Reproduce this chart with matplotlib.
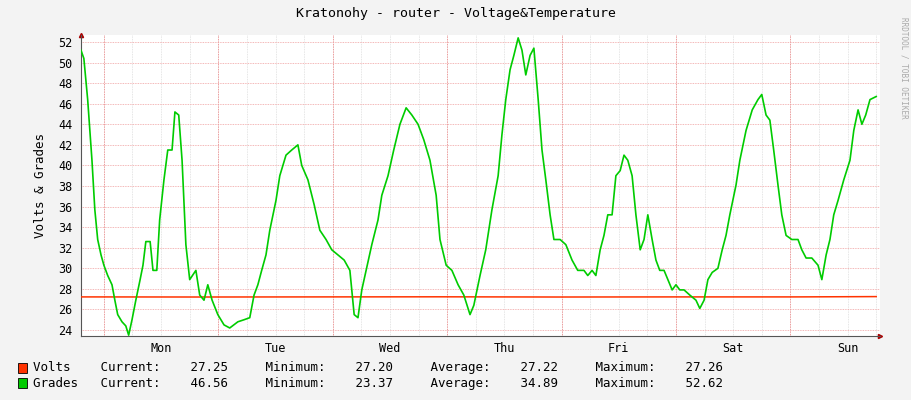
import matplotlib
matplotlib.use("Agg")
import matplotlib.pyplot as plt

# time in hours relative to Monday 00:00
grades_hours = [-4.8, -4.2, -3.4, -2.5, -1.9, -1.3, -0.6, 0, 0.8, 1.7, 2.3, 2.9, 3.8, 4.6, 5.2, 5.9, 6.7, 7.6, 8.2, 8.8,
                9.7, 10.3, 11.1, 11.7, 12.6, 13.4, 14.3, 14.9, 15.7, 16.4, 17.2, 18.0, 19.3, 20.1, 21.0, 21.8, 22.7, 23.9,
                25.2, 26.4, 28.1, 29.4, 30.6, 31.5, 32.3, 33.1, 34.0, 34.8, 36.1, 36.9, 38.2, 39.4, 40.7, 41.5, 42.8,
                44.1, 45.3, 46.6, 47.8, 49.1, 50.4, 51.6, 52.5, 53.3, 54.1, 55.0, 56.2, 57.5, 58.3, 59.6, 60.8, 62.1,
                63.4, 64.6, 65.9, 67.1, 68.4, 69.7, 70.5, 71.8, 73.0, 74.3, 75.5, 76.8, 77.6, 78.9, 80.1, 81.4, 82.7,
                83.5, 84.3, 85.2, 86.0, 86.9, 87.7, 88.5, 89.4, 90.2, 91.1, 91.9, 92.7, 93.6, 94.4, 95.7, 96.9, 98.2,
                99.4, 100.7, 101.5, 102.4, 103.2, 104.1, 104.9, 105.7, 106.6, 107.4, 108.3, 109.1, 109.9, 110.8, 111.6,
                112.5, 113.3, 114.1, 115.0, 115.8, 116.6, 117.5, 118.3, 119.2, 120.0, 120.8, 121.7, 122.9, 124.2, 125.0,
                125.9, 126.7, 127.6, 128.8, 129.7, 130.5, 131.3, 132.6, 133.4, 134.7, 136.0, 137.2, 138.0, 138.9, 139.7,
                140.5, 141.4, 142.2, 143.1, 144.3, 145.6, 146.4, 147.3, 148.5, 149.8, 150.6, 151.5, 152.3, 153.1, 154.0,
                155.2, 156.5, 157.3, 158.2, 159.0, 159.8, 160.7, 162.0]
grades = [51.2, 50.4, 46.4, 40.5, 35.7, 32.8, 31.3, 30.3, 29.3, 28.4, 26.9, 25.5, 24.8, 24.4, 23.5, 25.0, 26.9, 28.9, 30.3,
          32.6, 32.6, 29.8, 29.8, 34.7, 38.6, 41.5, 41.5, 45.2, 44.9, 40.5, 32.3, 28.9, 29.8, 27.4, 26.9, 28.4, 26.9, 25.5,
          24.5, 24.2, 24.8, 25.0, 25.2, 27.4, 28.4, 29.8, 31.3, 33.7, 36.6, 39.0, 41.0, 41.5, 42.0, 40.0, 38.6, 36.2,
          33.7, 32.8, 31.8, 31.3, 30.8, 29.8, 25.5, 25.2, 27.9, 29.8, 32.3, 34.7, 37.1, 39.0, 41.5, 44.0, 45.6, 44.9,
          44.0, 42.5, 40.5, 37.1, 32.8, 30.3, 29.8, 28.4, 27.4, 25.5, 26.4, 29.3, 31.8, 35.7, 39.0, 43.0, 46.4, 49.3,
          50.7, 52.4, 51.2, 48.8, 50.7, 51.4, 46.4, 41.5, 38.6, 35.2, 32.8, 32.8, 32.3, 30.8, 29.8, 29.8, 29.3, 29.8,
          29.3, 31.8, 33.2, 35.2, 35.2, 39.0, 39.5, 41.0, 40.5, 39.0, 35.2, 31.8, 32.8, 35.2, 32.8, 30.8, 29.8, 29.8,
          28.9, 27.9, 28.4, 27.9, 27.9, 27.4, 26.9, 26.1, 26.9, 28.9, 29.6, 30.0, 31.8, 33.2, 35.2, 38.1, 40.5, 43.4,
          45.4, 46.4, 46.9, 44.9, 44.4, 41.5, 38.1, 35.2, 33.2, 32.8, 32.8, 31.8, 31.0, 31.0, 30.3, 28.9, 31.3, 32.8,
          35.2, 36.6, 38.6, 40.5, 43.4, 45.4, 44.0, 44.9, 46.4, 46.7]
volts_hours = [-4.8, 20.0, 45.0, 70.0, 95.0, 120.0, 145.0, 162.0]
volts = [27.22, 27.21, 27.22, 27.23, 27.21, 27.22, 27.22, 27.25]
day_labels = ["Mon", "Tue", "Wed", "Thu", "Fri", "Sat", "Sun"]
legend_rows = [
    ("Volts ", "27.25", "27.20", "27.22", "27.26"),
    ("Grades", "46.56", "23.37", "34.89", "52.62"),
]

mono = "DejaVu Sans Mono"
plt.rcParams["font.family"] = mono
bg = "#f3f3f3"

fig = plt.figure(figsize=(9.11, 4.0), dpi=100, facecolor=bg)
ax = fig.add_axes([81 / 911, 64 / 400, 799 / 911, 301 / 400])
ax.set_facecolor("white")
ax.set_xlim(-4.8, 162.8)
ax.set_ylim(23.42, 52.68)

# grid
for h in range(0, 163, 6):
    ax.axvline(h, color="#dddddd", lw=0.6, ls=(0, (1, 1)), zorder=0)
for d in range(7):
    ax.axvline(d * 24, color="#f08080", lw=0.6, ls=(0, (1, 1)), zorder=1)
for v in range(24, 53, 2):
    ax.axhline(v, color="#f0a0a0", lw=0.6, ls=(0, (1, 1)), zorder=1)

ax.plot(volts_hours, volts, color="#ff3300", lw=1.1, zorder=3)
ax.plot(grades_hours, grades, color="#00cc00", lw=1.2, zorder=4)

ax.set_yticks(range(24, 53, 2))
ax.set_xticks([d * 24 + 12 for d in range(7)])
ax.set_xticklabels(day_labels)
ax.tick_params(axis="both", length=0, labelsize=8.5, colors="black", pad=4)
ax.tick_params(axis="y", pad=6)
for s in ["top", "right"]:
    ax.spines[s].set_visible(False)
for s in ["left", "bottom"]:
    ax.spines[s].set_color("#555555")
    ax.spines[s].set_linewidth(0.8)
ax.plot(1.0, 0, ">", transform=ax.transAxes, color="#aa0000", ms=3, clip_on=False)
ax.plot(0, 1.0, "^", transform=ax.transAxes, color="#aa0000", ms=3, clip_on=False)

ax.set_ylabel("Volts & Grades", fontsize=9, labelpad=8)
fig.text(0.5, 0.965, "Kratonohy - router - Voltage&Temperature", ha="center", va="center", fontsize=9.5)
fig.text(0.992, 0.83, "RRDTOOL / TOBI OETIKER", rotation=270, ha="center", va="center",
         fontsize=5.5, color="#aaaaaa")

colors = ["#ff3300", "#00cc00"]
for i, (name, cur, mn, av, mx) in enumerate(legend_rows):
    y = (400 - 368 - i * 15) / 400
    fig.patches.append(plt.Rectangle((18 / 911, y - 0.012), 9 / 911, 0.024, transform=fig.transFigure,
                                     facecolor=colors[i], edgecolor="black", lw=0.6))
    fig.text(33 / 911, y, f"{name}   Current:    {cur}     Minimum:    {mn}     Average:    {av}     Maximum:    {mx}",
             va="center", fontsize=9)

fig.savefig("out.png", dpi=100, facecolor=bg)
